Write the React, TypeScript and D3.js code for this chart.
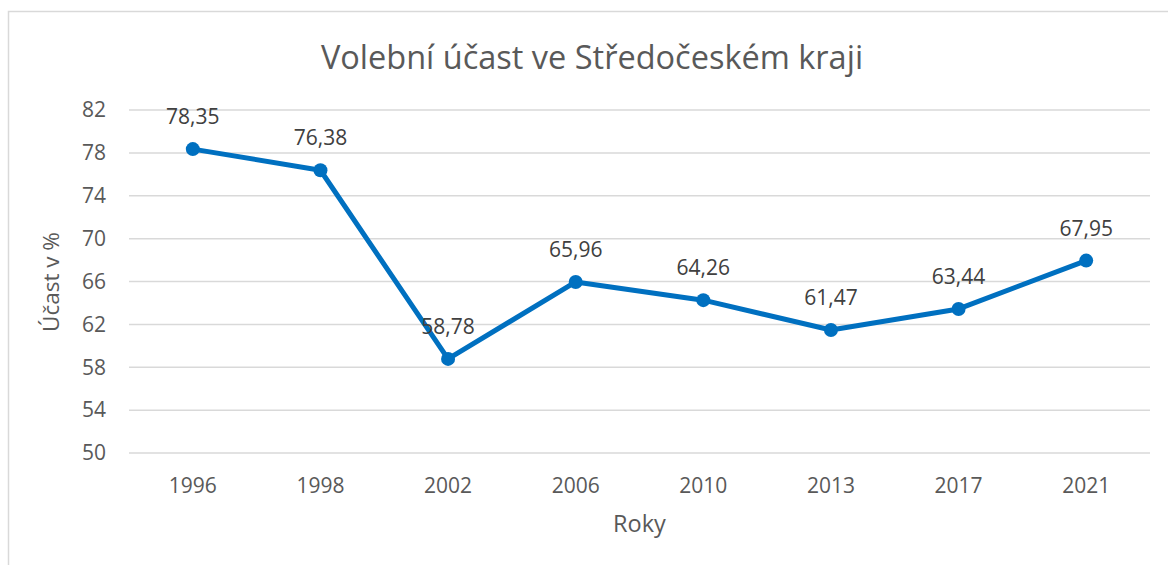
import React from "react";
import * as d3 from "d3";

const years = ["1996", "1998", "2002", "2006", "2010", "2013", "2017", "2021"];
const turnout = [78.35, 76.38, 58.78, 65.96, 64.26, 61.47, 63.44, 67.95];
const yTicks = [50, 54, 58, 62, 66, 70, 74, 78, 82];

const W = 1168;
const H = 565;
const FONT = "'Open Sans', sans-serif";

export default function App() {
  const x = d3.scaleBand<string>().domain(years).range([129, 1150]);
  const y = d3.scaleLinear().domain([50, 82]).range([453, 110]);
  const line = d3
    .line<number>()
    .x((_, i) => (x(years[i]) as number) + x.bandwidth() / 2)
    .y((d) => y(d));
  const fmt = (v: number) => v.toFixed(2).replace(".", ",");

  return (
    <svg
      width={W}
      height={H}
      style={{ position: "absolute", left: 0, top: 0, background: "#fff" }}
      fontFamily={FONT}
    >
      <rect x={8.5} y={11.5} width={1200} height={700} fill="#fff" stroke="#d9d9d9" strokeWidth={1.5} />
      <text x={592} y={69} textAnchor="middle" fontSize={32.5} fill="#595959">
        Volební účast ve Středočeském kraji
      </text>
      {yTicks.map((t) => (
        <g key={t}>
          <line x1={129} x2={1150} y1={y(t)} y2={y(t)} stroke="#d9d9d9" strokeWidth={1.5} />
          <text x={106} y={y(t)} dy="0.35em" textAnchor="end" fontSize={21} fill="#595959">
            {t}
          </text>
        </g>
      ))}
      {years.map((yr) => (
        <text
          key={yr}
          x={(x(yr) as number) + x.bandwidth() / 2}
          y={493}
          textAnchor="middle"
          fontSize={21}
          fill="#595959"
        >
          {yr}
        </text>
      ))}
      <text x={639.5} y={532} textAnchor="middle" fontSize={23.5} fill="#595959">
        Roky
      </text>
      <text
        transform={`translate(59,282) rotate(-90)`}
        textAnchor="middle"
        fontSize={22.5}
        fill="#595959"
      >
        Účast v %
      </text>
      <path d={line(turnout) || ""} fill="none" stroke="#0070C0" strokeWidth={5} strokeLinejoin="round" />
      {turnout.map((v, i) => {
        const cx = (x(years[i]) as number) + x.bandwidth() / 2;
        return (
          <g key={i}>
            <circle cx={cx} cy={y(v)} r={7} fill="#0070C0" />
            <text x={cx} y={y(v) - 25} textAnchor="middle" fontSize={21} fill="#404040">
              {fmt(v)}
            </text>
          </g>
        );
      })}
    </svg>
  );
}
